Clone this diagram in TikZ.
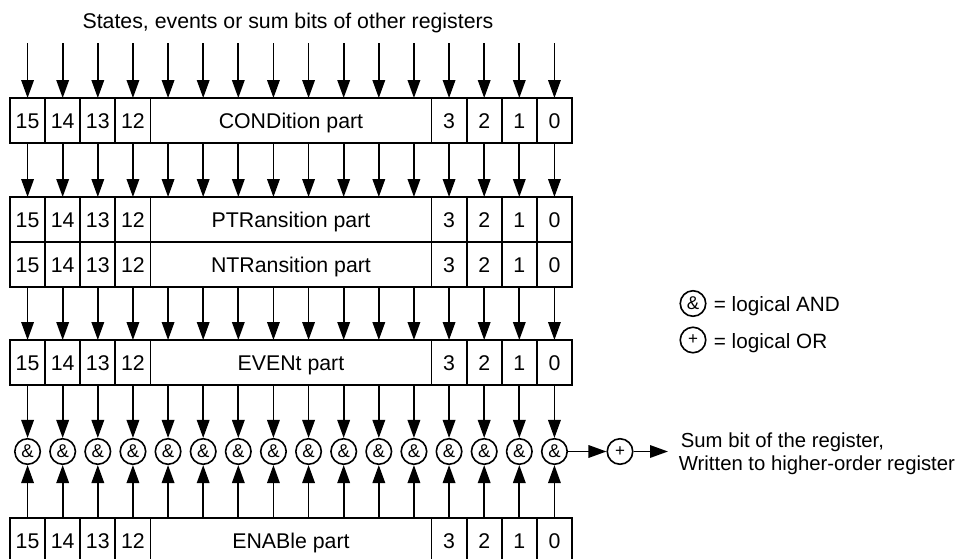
\documentclass[tikz,border=0pt]{standalone}
\usepackage{fontspec}
\setmainfont{Liberation Sans}
\usetikzlibrary{arrows.meta}
\begin{document}
\begin{tikzpicture}[x=1pt,y=-1pt,
  line width=1.8pt,
  arr/.style={-{Triangle[length=18pt,width=12.5pt]}, line width=1.8pt},
  cell/.style={draw, rectangle, minimum width=35.125pt, minimum height=45pt, inner sep=0pt,
    font=\fontsize{21.3}{24}\selectfont, text height=15.5pt, text depth=0pt},
  midcell/.style={cell, minimum width=281pt},
  gate/.style={draw, circle, minimum size=25.5pt, inner sep=0pt, line width=1.6pt,
    font=\fontsize{18.5}{20}\selectfont},
  orgate/.style={gate, font=\fontsize{17}{19}\selectfont},
  lbl/.style={font=\fontsize{21.3}{24}\selectfont, inner sep=0pt},
  leg/.style={font=\fontsize{20.7}{24}\selectfont, inner sep=0pt},
  sumtxt/.style={font=\fontsize{20.3}{24}\selectfont, inner sep=0pt}
]
\useasboundingbox (0,0) rectangle (972,558);
\fill[white] (0,0) rectangle (972,558);
\clip (0,0) rectangle (972,558);

\newcommand\regrow[3]{%
  \foreach \b [count=\i from 0] in {15,14,13,12}
    \node[cell] (#1\i) at ({10+35.125*(\i+0.5)},#2) {\b};
  \node[midcell] (#1m) at (291,#2) {#3};
  \foreach \b [count=\i from 12] in {3,2,1,0}
    \node[cell] (#1\i) at ({10+35.125*(\i+0.5)},#2) {\b};
  \foreach \i in {0,...,15} {
    \coordinate (#1t\i) at ({10+35.125*(\i+0.5)},{#2-22.5});
    \coordinate (#1b\i) at ({10+35.125*(\i+0.5)},{#2+22.5});
  }
}

\regrow{cond}{120.5}{CONDition part}
\regrow{ptr}{219.5}{PTRansition part}
\regrow{ntr}{264.5}{NTRansition part}
\regrow{evt}{362.5}{EVENt part}
\regrow{ena}{540.5}{ENABle part}

\node[lbl, anchor=base] (title) at (288,28.5) {States, events or sum bits of other registers};

\foreach \i in {0,...,15} {
  \coordinate (in\i) at ({10+35.125*(\i+0.5)},43);
  \node[gate] (and\i) at ({10+35.125*(\i+0.5)},451.5) {\&};
  \draw[arr] (in\i) -- (condt\i);
  \draw[arr] (condb\i) -- (ptrt\i);
  \draw[arr] (ntrb\i) -- (evtt\i);
  \draw[arr] (evtb\i) -- (and\i);
  \draw[arr] (enat\i) -- (and\i);
}

\node[orgate] (or) at (620,451.5) {+};
\draw[arr] (and15) -- (or);
\coordinate (sum) at (668,451.5);
\draw[arr] (or) -- (sum);
\node[sumtxt, anchor=base west] (s1) at (680,447.5) {Sum bit of the register,};
\node[sumtxt, anchor=base west] (s2) at (678,470.5) {Written to higher-order register};

\node[gate] (land) at (693,303.5) {\&};
\node[leg, anchor=base west] (tand) at (713,311.5) {= logical AND};
\node[orgate] (lor) at (693,340) {+};
\node[leg, anchor=base west] (tor) at (713,348) {= logical OR};
\end{tikzpicture}
\end{document}
